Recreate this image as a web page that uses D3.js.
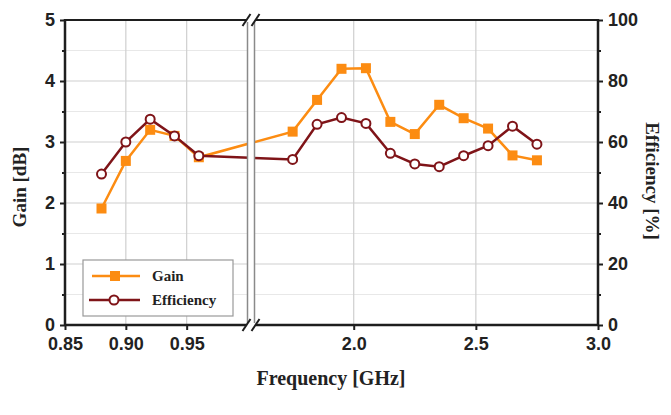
<!DOCTYPE html>
<html>
<head>
<meta charset="utf-8">
<script src="https://cdn.jsdelivr.net/npm/d3@7"></script>
<style>
  body { margin: 0; background: #fff; }
  .tick text { font-family: "Liberation Sans", Arial, sans-serif; font-weight: bold; font-size: 18px; fill: #222; }
  .lbl { font-family: "Liberation Serif", "Times New Roman", serif; font-weight: bold; fill: #222; }
</style>
</head>
<body>
<div id="plot"></div>
<script>
// frequency in GHz, left part is the low band, right part the high band
const freq = [0.88, 0.90, 0.92, 0.94, 0.96, 1.75, 1.85, 1.95, 2.05, 2.15, 2.25, 2.35, 2.45, 2.55, 2.65, 2.75];
const gain = [1.91, 2.69, 3.2, 3.1, 2.75, 3.17, 3.69, 4.2, 4.21, 3.33, 3.13, 3.61, 3.39, 3.22, 2.78, 2.70];
const efficiency = [49.5, 60, 67.5, 62, 55.5, 54.3, 65.8, 68, 66.1, 56.3, 52.8, 51.9, 55.5, 58.8, 65.2, 59.3];
const lowTicks = [0.85, 0.90, 0.95];
const highTicks = [2.0, 2.5, 3.0];
const gainTicks = [0, 1, 2, 3, 4, 5];
const effTicks = [0, 20, 40, 60, 80, 100];

const W = 671, H = 415;
const pLeft = 65, pRight = 598, pTop = 20, pBottom = 325;
const brk1 = 247.5, brk2 = 254.5;

const svg = d3.select("#plot").append("svg").attr("width", W).attr("height", H);

const xLow = d3.scaleLinear().domain([0.85, 1.0]).range([pLeft, brk1]);
const xHigh = d3.scaleLinear().domain([1.6, 3.0]).range([brk2 + 1.5, pRight]);
const x = f => f < 1.2 ? xLow(f) : xHigh(f);
const yG = d3.scaleLinear().domain([0, 5]).range([pBottom, pTop]);
const yE = d3.scaleLinear().domain([0, 100]).range([pBottom, pTop]);

// grid
const grid = svg.append("g");
d3.range(0.5, 5, 0.5).forEach(v => {
  grid.append("line").attr("x1", pLeft).attr("x2", pRight).attr("y1", yG(v)).attr("y2", yG(v))
    .attr("stroke", v % 1 === 0 ? "#cfcfcf" : "#e8e8e8").attr("stroke-width", 1.2);
});
[0.90, 0.95].forEach(v => {
  grid.append("line").attr("x1", xLow(v)).attr("x2", xLow(v)).attr("y1", pTop).attr("y2", pBottom)
    .attr("stroke", "#cfcfcf").attr("stroke-width", 1.2);
});
[2.0, 2.5].forEach(v => {
  grid.append("line").attr("x1", xHigh(v)).attr("x2", xHigh(v)).attr("y1", pTop).attr("y2", pBottom)
    .attr("stroke", "#cfcfcf").attr("stroke-width", 1.2);
});

const orange = "#fc8c12", maroon = "#7f1418";

// lines
const gainLine = d3.line().x((d, i) => x(freq[i])).y(d => yG(d));
const effLine = d3.line().x((d, i) => x(freq[i])).y(d => yE(d));

svg.append("path").datum(gain).attr("d", gainLine).attr("fill", "none")
  .attr("stroke", orange).attr("stroke-width", 2.5);
svg.append("g").selectAll("rect").data(gain).enter().append("rect")
  .attr("x", (d, i) => x(freq[i]) - 5).attr("y", d => yG(d) - 5)
  .attr("width", 10).attr("height", 10).attr("fill", orange);

svg.append("path").datum(efficiency).attr("d", effLine).attr("fill", "none")
  .attr("stroke", maroon).attr("stroke-width", 2.5);
svg.append("g").selectAll("circle").data(efficiency).enter().append("circle")
  .attr("cx", (d, i) => x(freq[i])).attr("cy", d => yE(d)).attr("r", 4.5)
  .attr("fill", "#fff").attr("stroke", maroon).attr("stroke-width", 2);

// axis break: double line
svg.append("rect").attr("x", brk1).attr("y", pTop).attr("width", brk2 - brk1).attr("height", pBottom - pTop)
  .attr("fill", "#fff");
[brk1, brk2].forEach(b => {
  svg.append("line").attr("x1", b).attr("x2", b).attr("y1", pTop).attr("y2", pBottom)
    .attr("stroke", "#8a8a8a").attr("stroke-width", 1.5);
});

// axes
const ax = "#1e1e1e";
svg.append("g").attr("transform", `translate(${pLeft},0)`)
  .call(d3.axisLeft(yG).tickValues(gainTicks).tickFormat(d3.format("d")).tickSize(5).tickPadding(5));
svg.append("g").attr("transform", `translate(${pLeft},0)`)
  .call(d3.axisLeft(yG).tickValues(d3.range(0.5, 5, 1)).tickFormat("").tickSize(3));
svg.append("g").attr("transform", `translate(${pRight},0)`)
  .call(d3.axisRight(yE).tickValues(effTicks).tickSize(5).tickPadding(5));
svg.append("g").attr("transform", `translate(${pRight},0)`)
  .call(d3.axisRight(yE).tickValues(d3.range(10, 100, 20)).tickFormat("").tickSize(3));
svg.append("g").attr("transform", `translate(0,${pBottom})`)
  .call(d3.axisBottom(xLow).tickValues(lowTicks).tickFormat(d3.format(".2f")).tickSize(5).tickPadding(7));
svg.append("g").attr("transform", `translate(0,${pBottom})`)
  .call(d3.axisBottom(xHigh).tickValues(highTicks).tickFormat(d3.format(".1f")).tickSize(5).tickPadding(7));
svg.selectAll(".domain").remove();
svg.selectAll(".tick line").attr("stroke", ax).attr("stroke-width", 2);

// frame
svg.append("line").attr("x1", pLeft).attr("x2", pRight).attr("y1", pTop).attr("y2", pTop).attr("stroke", ax).attr("stroke-width", 2);
svg.append("line").attr("x1", pLeft).attr("x2", pRight).attr("y1", pBottom).attr("y2", pBottom).attr("stroke", ax).attr("stroke-width", 2.5);
svg.append("line").attr("x1", pLeft).attr("x2", pLeft).attr("y1", pTop - 1).attr("y2", pBottom + 1).attr("stroke", ax).attr("stroke-width", 2.5);
svg.append("line").attr("x1", pRight).attr("x2", pRight).attr("y1", pTop - 1).attr("y2", pBottom + 1).attr("stroke", ax).attr("stroke-width", 2.5);

// break marks //
[pTop, pBottom].forEach(yy => {
  svg.append("rect").attr("x", brk1 - 1).attr("y", yy - 2).attr("width", brk2 - brk1 + 2).attr("height", 4).attr("fill", "#fff");
  [brk1 - 1, brk2 + 1].forEach(b => {
    svg.append("line").attr("x1", b - 4).attr("y1", yy + 6).attr("x2", b + 4).attr("y2", yy - 6)
      .attr("stroke", ax).attr("stroke-width", 2);
  });
});

// labels
svg.append("text").attr("class", "lbl").attr("font-size", 19).attr("text-anchor", "middle")
  .attr("transform", "translate(26,187) rotate(-90)").text("Gain [dB]");
svg.append("text").attr("class", "lbl").attr("font-size", 19).attr("text-anchor", "middle")
  .attr("transform", "translate(646,181) rotate(90)").text("Efficiency [%]");
svg.append("text").attr("class", "lbl").attr("font-size", 20).attr("text-anchor", "middle")
  .attr("x", 331).attr("y", 385).text("Frequency [GHz]");

// legend
const lg = svg.append("g");
lg.append("rect").attr("x", 83).attr("y", 260).attr("width", 150).attr("height", 56)
  .attr("fill", "#fff").attr("stroke", "#999").attr("stroke-width", 1.2);
lg.append("line").attr("x1", 92).attr("x2", 140).attr("y1", 276).attr("y2", 276).attr("stroke", orange).attr("stroke-width", 2.5);
lg.append("rect").attr("x", 110).attr("y", 271).attr("width", 10).attr("height", 10).attr("fill", orange);
lg.append("line").attr("x1", 89).attr("x2", 140).attr("y1", 300).attr("y2", 300).attr("stroke", maroon).attr("stroke-width", 2.5);
lg.append("circle").attr("cx", 114).attr("cy", 300).attr("r", 4.5).attr("fill", "#fff").attr("stroke", maroon).attr("stroke-width", 2);
lg.append("text").attr("class", "lbl").attr("font-size", 15).attr("x", 152).attr("y", 281).text("Gain");
lg.append("text").attr("class", "lbl").attr("font-size", 15).attr("x", 152).attr("y", 305).text("Efficiency");
</script>
</body>
</html>
